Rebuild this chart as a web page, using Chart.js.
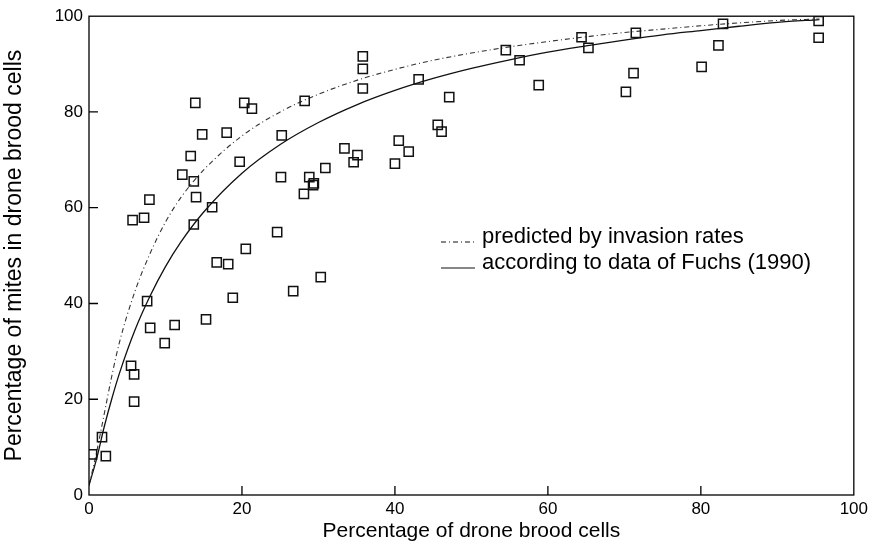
<!DOCTYPE html>
<html>
<head>
<meta charset="utf-8">
<script src="https://cdn.jsdelivr.net/npm/chart.js@4"></script>
<style>
  html, body { margin: 0; padding: 0; background: #fff; }
  #wrap { width: 872px; height: 544px; }
</style>
</head>
<body>
<div id="wrap"><canvas id="mitesChart" width="872" height="544"></canvas></div>
<script>
// --- observed colonies: % drone brood cells vs % mites in drone brood ---
const droneCells = [
  0.4, 1.7, 2.2, 5.5, 5.9, 5.9, 5.7, 7.2, 7.9, 7.6, 8.0, 9.9, 11.2, 12.2,
  13.3, 13.7, 13.7, 14.0, 13.9, 14.8, 15.3, 16.1, 16.7, 18.0, 18.2, 18.8,
  19.7, 20.3, 20.5, 21.3, 24.6, 25.2, 25.1, 26.7, 28.1, 28.2, 28.8, 29.4,
  29.3, 30.3, 30.9, 33.4, 34.6, 35.1, 35.8, 35.8, 35.8, 40.0, 40.5, 41.8,
  43.1, 45.6, 46.1, 47.1, 54.5, 56.3, 58.8, 64.4, 65.3, 70.2, 71.2, 71.5,
  80.1, 82.3, 82.9, 95.4, 95.4
];
const mitesInDrone = [
  8.5, 12.1, 8.1, 27.0, 25.2, 19.5, 57.4, 57.9, 61.7, 40.5, 34.9, 31.7, 35.5, 66.9,
  70.8, 65.5, 56.5, 62.2, 81.9, 75.3, 36.7, 60.1, 48.6, 75.7, 48.2, 41.2,
  69.6, 81.9, 51.4, 80.7, 54.9, 75.1, 66.4, 42.6, 62.9, 82.3, 66.4, 65.1,
  64.7, 45.5, 68.3, 72.4, 69.5, 71.0, 91.6, 89.0, 84.9, 69.2, 74.0, 71.7,
  86.8, 77.3, 75.9, 83.1, 92.9, 90.8, 85.6, 95.6, 93.4, 84.2, 88.1, 96.5,
  89.4, 93.9, 98.4, 99.0, 95.5
];

// --- the two model curves ---
const curveX = [0, 1, 2, 3, 4, 6, 8, 10, 12, 15, 20, 25, 30, 35, 40, 45, 50, 55, 60, 65, 70, 75, 80, 85, 90, 95.5];
const predicted = [2, 9, 17, 25, 32, 42.5, 50.5, 57, 62.1, 67.9, 75.0, 80.0, 83.7, 86.6, 88.9, 90.8, 92.3, 93.6, 94.7, 95.7, 96.6, 97.3, 98.0, 98.6, 99.1, 99.4];
const fuchs = [2, 7.6, 14.3, 20.2, 25.5, 34.4, 41.6, 47.7, 52.8, 59.1, 67.2, 73.2, 77.8, 81.5, 84.5, 87.0, 89.1, 90.9, 92.5, 93.8, 95.0, 96.1, 97.0, 97.9, 98.7, 99.3];

const xTicks = [0, 20, 40, 60, 80, 100];
const yTicks = [0, 20, 40, 60, 80, 100];

const legendLabels = ["predicted by invasion rates", "according to data of Fuchs (1990)"];

const FONT = "'Liberation Sans', Arial, Helvetica, sans-serif";
const DASH = [5, 3, 1, 3];

Chart.defaults.font.family = FONT;
Chart.defaults.color = "#000";

const toPoints = (xs, ys) => xs.map((x, i) => ({ x: x, y: ys[i] }));

// frame round the plot + inward tick marks
const framePlugin = {
  id: "frame",
  afterDraw(chart) {
    const ctx = chart.ctx;
    const a = chart.chartArea;
    const xs = chart.scales.x;
    const ys = chart.scales.y;
    ctx.save();
    ctx.strokeStyle = "#000";
    ctx.lineWidth = 1.3;
    ctx.strokeRect(a.left, a.top, a.right - a.left, a.bottom - a.top);
    ctx.beginPath();
    xTicks.slice(1, -1).forEach((v) => {
      const px = xs.getPixelForValue(v);
      ctx.moveTo(px, a.bottom);
      ctx.lineTo(px, a.bottom - 9);
    });
    yTicks.slice(1, -1).forEach((v) => {
      const py = ys.getPixelForValue(v);
      ctx.moveTo(a.left, py);
      ctx.lineTo(a.left + 9, py);
    });
    ctx.stroke();
    ctx.restore();
  },
};

// legend written inside the plot, line sample + text
const inlineLegend = {
  id: "inlineLegend",
  afterDraw(chart) {
    const ctx = chart.ctx;
    const rows = [
      { text: legendLabels[0], dash: DASH, y: 242 },
      { text: legendLabels[1], dash: [], y: 268 },
    ];
    ctx.save();
    ctx.font = "22px " + FONT;
    ctx.fillStyle = "#000";
    ctx.textBaseline = "alphabetic";
    rows.forEach((r) => {
      ctx.beginPath();
      ctx.setLineDash(r.dash);
      ctx.strokeStyle = "#111";
      ctx.lineWidth = 1.2;
      ctx.moveTo(441, r.y);
      ctx.lineTo(475, r.y);
      ctx.stroke();
      ctx.setLineDash([]);
      ctx.fillText(r.text, 482, r.y + 1);
    });
    ctx.restore();
  },
};

new Chart(document.getElementById("mitesChart").getContext("2d"), {
  type: "scatter",
  data: {
    datasets: [
      {
        label: "observed",
        data: toPoints(droneCells, mitesInDrone),
        pointStyle: "rect",
        pointRadius: 6.5,
        pointBorderWidth: 1.5,
        borderColor: "#111",
        backgroundColor: "rgba(0,0,0,0)",
      },
      {
        label: legendLabels[0],
        type: "line",
        data: toPoints(curveX, predicted),
        borderColor: "#333",
        borderWidth: 1.1,
        borderDash: DASH,
        pointRadius: 0,
        cubicInterpolationMode: "monotone",
        fill: false,
      },
      {
        label: legendLabels[1],
        type: "line",
        data: toPoints(curveX, fuchs),
        borderColor: "#111",
        borderWidth: 1.3,
        pointRadius: 0,
        cubicInterpolationMode: "monotone",
        fill: false,
      },
    ],
  },
  options: {
    responsive: false,
    animation: false,
    layout: { padding: { top: 14, right: 18, left: 0, bottom: 0 } },
    plugins: {
      legend: { display: false },
      tooltip: { enabled: false },
    },
    scales: {
      x: {
        type: "linear",
        min: 0,
        max: 100,
        afterBuildTicks: (s) => { s.ticks = xTicks.map((v) => ({ value: v })); },
        afterFit: (s) => { s.height = 49; },
        grid: { display: false, drawTicks: false },
        border: { display: false },
        ticks: { font: { size: 17 }, padding: 4, maxRotation: 0 },
        title: {
          display: true,
          text: "Percentage of drone brood cells",
          font: { size: 21 },
          padding: { top: 0, bottom: 0 },
        },
      },
      y: {
        type: "linear",
        min: 0,
        max: 100,
        afterBuildTicks: (s) => { s.ticks = yTicks.map((v) => ({ value: v })); },
        afterFit: (s) => { s.width = 89; },
        grid: { display: false, drawTicks: false },
        border: { display: false },
        ticks: { font: { size: 17 }, padding: 6 },
        title: {
          display: true,
          text: "Percentage of mites in drone brood cells",
          font: { size: 23 },
          padding: { top: 1, bottom: 0 },
        },
      },
    },
  },
  plugins: [framePlugin, inlineLegend],
});
</script>
</body>
</html>
